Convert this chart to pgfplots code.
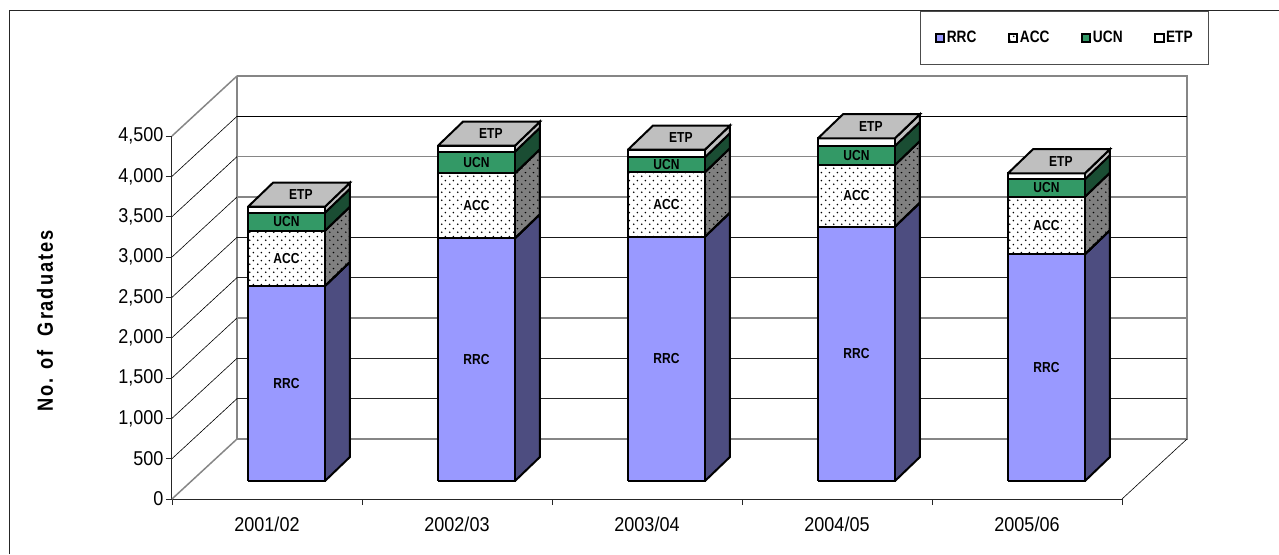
\documentclass[border=0pt]{standalone}
\usepackage{fontspec}
\setmainfont{Liberation Sans}[FakeStretch=0.9]
\newfontfamily\barfont{Liberation Sans}[FakeStretch=0.83]
\newfontfamily\titlefont{Liberation Sans}[FakeStretch=0.83,LetterSpace=8.5]
\usepackage{pgfplots}
\pgfplotsset{compat=1.18}
\usetikzlibrary{patterns}

\definecolor{rrcfront}{HTML}{9999FF}
\definecolor{rrcside}{HTML}{4D4D80}
\definecolor{accside}{HTML}{808080}
\definecolor{ucnfront}{HTML}{339966}
\definecolor{ucnside}{HTML}{1A4D33}
\definecolor{topface}{HTML}{BFBFBF}
\definecolor{wallgray}{HTML}{868686}

% 1px = 1pt, dots repeat every 8px
\pgfdeclarepatternformonly{accdots}{\pgfqpoint{0pt}{0pt}}{\pgfqpoint{8pt}{8pt}}{\pgfqpoint{8pt}{8pt}}{
  \pgfpathcircle{\pgfqpoint{2pt}{2pt}}{0.95pt}
  \pgfpathcircle{\pgfqpoint{6pt}{6pt}}{0.95pt}
  \pgfusepath{fill}
}

% depth of the walls and of the bars, in axis units
\def\walldx{0.3421}
\def\walldy{744}
\def\bardx{0.1316}
\def\bardy{298}
\def\barlift{223}

% one segment: #1 left edge, #2 bottom, #3 top, #4 front style, #5 side style
\newcommand{\segment}[5]{
  \pgfmathsetmacro{\xa}{#1}
  \pgfmathsetmacro{\xb}{#1+0.405}
  \pgfmathsetmacro{\xc}{#1+0.405+\bardx}
  \pgfmathsetmacro{\ya}{#2+\barlift}
  \pgfmathsetmacro{\yb}{#3+\barlift}
  \pgfmathsetmacro{\yc}{#2+\barlift+\bardy}
  \pgfmathsetmacro{\yd}{#3+\barlift+\bardy}
  \addplot[forget plot, black, line width=2pt, line join=miter, #5] coordinates {(\xb,\ya) (\xc,\yc) (\xc,\yd) (\xb,\yb) (\xb,\ya)};
  \addplot[forget plot, black, line width=2pt, line join=miter, #4] coordinates {(\xa,\ya) (\xb,\ya) (\xb,\yb) (\xa,\yb) (\xa,\ya)};
}

% one bar: #1 left edge, then RRC ACC UCN ETP
\newcommand{\stackbar}[5]{
  \pgfmathsetmacro{\sa}{#2}
  \segment{#1}{0}{\sa}{fill=rrcfront}{fill=rrcside}
  \pgfmathsetmacro{\sa}{#2}\pgfmathsetmacro{\sb}{#2+#3}
  \segment{#1}{\sa}{\sb}{pattern=accdots, preaction={fill=white}}{pattern=accdots, preaction={fill=accside}}
  \pgfmathsetmacro{\sb}{#2+#3}\pgfmathsetmacro{\sc}{#2+#3+#4}
  \segment{#1}{\sb}{\sc}{fill=ucnfront}{fill=ucnside}
  \pgfmathsetmacro{\sc}{#2+#3+#4}\pgfmathsetmacro{\sd}{#2+#3+#4+#5}
  \segment{#1}{\sc}{\sd}{fill=white}{fill=topface}
  \pgfmathsetmacro{\sd}{#2+#3+#4+#5}
  \pgfmathsetmacro{\xa}{#1}
  \pgfmathsetmacro{\xb}{#1+0.405}
  \pgfmathsetmacro{\xc}{#1+0.405+\bardx}
  \pgfmathsetmacro{\xd}{#1+\bardx}
  \pgfmathsetmacro{\ya}{\sd+\barlift}
  \pgfmathsetmacro{\yb}{\sd+\barlift+\bardy}
  \addplot[forget plot, black, fill=topface, line width=2pt, line join=miter] coordinates {(\xa,\ya) (\xb,\ya) (\xc,\yb) (\xd,\yb) (\xa,\ya)};
  % labels
  \pgfmathsetmacro{\lx}{#1+0.2025}
  \pgfmathsetmacro{\ltop}{#1+0.2125+\bardx/2}
  \pgfmathsetmacro{\la}{#2/2+\barlift}
  \pgfmathsetmacro{\lb}{#2+#3/2+\barlift}
  \pgfmathsetmacro{\lc}{#2+#3+#4/2+\barlift}
  \pgfmathsetmacro{\ld}{\sd+\barlift+\bardy/2}
  \edef\temp{
    \noexpand\node[barlabel] at (axis cs:\lx,\la) {RRC};
    \noexpand\node[barlabel, fill=white, inner sep=1.5pt] at (axis cs:\lx,\lb) {ACC};
    \noexpand\node[barlabel] at (axis cs:\lx,\lc) {UCN};
    \noexpand\node[barlabel] at (axis cs:\ltop,\ld) {ETP};
  }\temp
}

% gridline: thin on the side wall, #2 on the back wall
\newcommand{\gridline}[2]{
  \pgfmathsetmacro{\ya}{#1}
  \pgfmathsetmacro{\yb}{#1+\walldy}
  \addplot[forget plot, black, line width=0.6pt] coordinates {(0,\ya) (\walldx,\yb)};
  \addplot[forget plot, #2] coordinates {(\walldx,\yb) (5.3421,\yb)};
}

\begin{document}
\begin{tikzpicture}[
    barlabel/.style={font=\barfont\fontsize{14.5}{15}\selectfont\bfseries, inner sep=0pt, text=black}]
  \useasboundingbox (-172pt,-55pt) rectangle (1107pt,499pt);
  % outer frame
  \draw[black!85, line width=1pt] (-162pt,-55pt) -- (-162pt,488pt) -- (1107pt,488pt);
  \begin{axis}[
      at={(0pt,0pt)}, anchor=origin,
      scale only axis,
      width=950pt, height=363pt,
      xmin=0, xmax=5, ymin=0, ymax=4500,
      clip=false,
      axis x line=bottom, axis y line=left,
      axis line style={-, black!85, line width=1pt},
      xtick={0,1,2,3,4,5},
      x tick label as interval,
      xticklabels={2001/02,2002/03,2003/04,2004/05,2005/06},
      ytick distance=500,
      scaled y ticks=false,
      tick align=outside,
      major tick length=6pt,
      tick style={black!85, line width=0.8pt},
      tick label style={font=\fontsize{20}{24}\selectfont},
      /pgf/number format/assume math mode=true,
      /pgf/number format/1000 sep={,},
      xticklabel style={yshift=-8pt},
      yticklabel style={xshift=1pt},
      ylabel={\titlefont\fontsize{22}{24}\selectfont\bfseries No. of\ \ Graduates},
      ylabel style={at={(axis description cs:0,0.49)}, anchor=center, yshift=127pt},
      legend image code/.code={\draw[#1] (0pt,-4.2pt) rectangle (8.4pt,4.2pt);},
      legend style={at={(748pt,488pt)}, anchor=north west, draw=black!70, line width=0.9pt,
        legend columns=4, font=\barfont\fontsize{16.5}{18}\selectfont\bfseries,
        inner xsep=14.5pt, inner ysep=20pt,
        nodes={inner xsep=1.5pt, inner ysep=0pt},
        /tikz/every even column/.append style={column sep=30pt}},
      legend cell align=left,
    ]
    % floor and walls
    \addplot[forget plot, wallgray, line width=2pt, line join=miter] coordinates {(\walldx,4500+\walldy) (\walldx,\walldy) (5.3421,\walldy) (5.3421,4500+\walldy) (\walldx,4500+\walldy)};
    \gridline{500}{black!85, line width=0.7pt}
    \gridline{1000}{black!85, line width=0.7pt}
    \gridline{1500}{wallgray, line width=1.1pt}
    \gridline{2000}{black!85, line width=0.7pt}
    \gridline{2500}{black!90, line width=0.7pt}
    \gridline{3000}{wallgray, line width=1.1pt}
    \gridline{3500}{wallgray, line width=1.6pt}
    \gridline{4000}{black, line width=0.8pt}
    \addplot[forget plot, wallgray, line width=1.5pt] coordinates {(0,0) (\walldx,\walldy)};
    \addplot[forget plot, wallgray, line width=1.5pt] coordinates {(0,4500) (\walldx,4500+\walldy)};
    \addplot[forget plot, black, line width=0.6pt] coordinates {(5,0) (5.3421,\walldy)};

    \stackbar{0.4}{2417}{686}{223}{74}
    \stackbar{1.4}{3009}{806}{268}{74}
    \stackbar{2.4}{3029}{799}{186}{94}
    \stackbar{3.4}{3153}{765}{236}{95}
    \stackbar{4.4}{2811}{714}{216}{74}

    % legend keys only
    \addlegendimage{black, line width=2pt, fill=rrcfront}
    \addlegendentry{RRC}
    \addlegendimage{black, line width=2pt, pattern=accdots}
    \addlegendentry{ACC}
    \addlegendimage{black, line width=2pt, fill=ucnfront}
    \addlegendentry{UCN}
    \addlegendimage{black, line width=2pt, fill=white}
    \addlegendentry{ETP}
  \end{axis}
\end{tikzpicture}
\end{document}
